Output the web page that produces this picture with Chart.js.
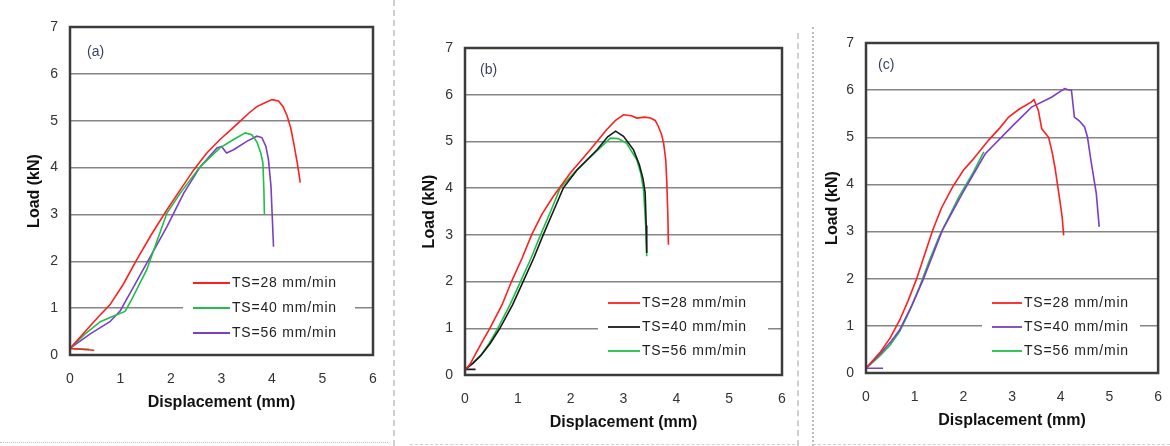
<!DOCTYPE html>
<html>
<head>
<meta charset="utf-8">
<script src="https://cdn.jsdelivr.net/npm/chart.js@4.4.1/dist/chart.umd.min.js"></script>
<style>
  body { margin: 0; background: #fff; }
  #wrap { position: relative; width: 1170px; height: 446px; overflow: hidden; }
  .panel { position: absolute; top: 0; height: 446px; }
  .sep { position: absolute; }
</style>
</head>
<body>
<div id="wrap">
  <div class="panel" style="left:0;width:390px"><canvas id="chartA"></canvas></div>
  <div class="panel" style="left:395px;width:400px"><canvas id="chartB"></canvas></div>
  <div class="panel" style="left:815px;width:355px"><canvas id="chartC"></canvas></div>
  <div class="sep" style="left:393px;top:0;height:446px;border-left:2px dashed #d0d0d0"></div>
  <div class="sep" style="left:797px;top:33px;height:413px;border-left:2px dashed #d0d0d0"></div>
  <div class="sep" style="left:812px;top:27px;height:419px;border-left:2px dotted #bdbdbd"></div>
  <div class="sep" style="left:0;top:442px;width:388px;border-top:1px dotted #bdbdbd"></div>
  <div class="sep" style="left:410px;top:444px;width:385px;border-top:1px dashed #d0d0d0"></div>
  <div class="sep" style="left:813px;top:444px;width:357px;border-top:1px dashed #d0d0d0"></div>
</div>
<script>
// Achsen
const xTicks = [0, 1, 2, 3, 4, 5, 6];
const yTicks = [0, 1, 2, 3, 4, 5, 6, 7];
const labels = ['TS=28 mm/min', 'TS=40 mm/min', 'TS=56 mm/min'];

// (a)
const aRedX = [0.48, 0.0, 0.3, 0.55, 0.79, 1.05, 1.32, 1.6, 1.92, 2.2, 2.45, 2.7, 2.97, 3.2, 3.37, 3.55, 3.7, 3.85, 4.0, 4.13, 4.22, 4.3, 4.37, 4.43, 4.5, 4.56];
const aRedY = [0.1, 0.14, 0.5, 0.8, 1.07, 1.5, 2.03, 2.55, 3.1, 3.55, 3.95, 4.3, 4.6, 4.82, 4.99, 5.17, 5.3, 5.38, 5.45, 5.42, 5.3, 5.1, 4.85, 4.52, 4.1, 3.68];
const aGreenX = [0.38, 0.0, 0.3, 0.6, 0.9, 1.09, 1.22, 1.52, 1.92, 2.18, 2.58, 2.97, 3.24, 3.47, 3.6, 3.7, 3.78, 3.82, 3.84, 3.85];
const aGreenY = [0.12, 0.14, 0.45, 0.71, 0.85, 0.93, 1.18, 1.82, 3.03, 3.45, 4.02, 4.42, 4.6, 4.74, 4.7, 4.55, 4.3, 4.1, 3.5, 2.99];
const aPurpleX = [0.0, 0.4, 0.79, 1.0, 1.1, 1.19, 1.52, 1.92, 2.25, 2.58, 2.91, 3.0, 3.1, 3.24, 3.5, 3.7, 3.8, 3.88, 3.93, 3.98, 4.03];
const aPurpleY = [0.14, 0.45, 0.71, 0.95, 1.15, 1.32, 1.96, 2.74, 3.45, 4.02, 4.42, 4.45, 4.31, 4.38, 4.56, 4.67, 4.64, 4.45, 4.17, 3.6, 2.31];

// (b)
const bRedX = [0, 0.1, 0.2, 0.33, 0.47, 0.7, 0.88, 1.08, 1.26, 1.46, 1.67, 1.99, 2.37, 2.68, 2.85, 3.0, 3.15, 3.25, 3.4, 3.51, 3.6, 3.66, 3.72, 3.76, 3.8, 3.82, 3.84, 3.85];
const bRedY = [0.1, 0.24, 0.45, 0.72, 1.0, 1.5, 2.0, 2.5, 3.0, 3.45, 3.82, 4.32, 4.82, 5.25, 5.45, 5.57, 5.55, 5.5, 5.52, 5.5, 5.45, 5.32, 5.15, 4.96, 4.6, 4.11, 3.4, 2.79];
const bBlackX = [0.2, 0, 0.15, 0.3, 0.48, 0.66, 0.9, 1.1, 1.3, 1.48, 1.67, 1.86, 2.12, 2.5, 2.7, 2.85, 3.0, 3.19, 3.3, 3.37, 3.41, 3.43, 3.44];
const bBlackY = [0.12, 0.12, 0.25, 0.42, 0.68, 1.0, 1.5, 2.0, 2.5, 3.0, 3.5, 4.0, 4.39, 4.82, 5.1, 5.22, 5.11, 4.82, 4.5, 4.2, 3.9, 3.2, 2.61];
const bGreenX = [0, 0.15, 0.3, 0.46, 0.62, 0.85, 1.05, 1.25, 1.43, 1.62, 1.8, 2.1, 2.5, 2.75, 2.9, 3.06, 3.25, 3.33, 3.38, 3.42, 3.44];
const bGreenY = [0.12, 0.26, 0.42, 0.68, 1.0, 1.5, 2.0, 2.5, 3.0, 3.5, 4.0, 4.37, 4.8, 5.07, 5.06, 4.96, 4.61, 4.3, 3.96, 3.2, 2.54];

// (c)
const cRedX = [0, 0.3, 0.5, 0.69, 0.86, 1.03, 1.2, 1.37, 1.55, 1.78, 2.0, 2.18, 2.52, 2.75, 2.93, 3.15, 3.4, 3.45, 3.54, 3.61, 3.75, 3.82, 3.88, 3.98, 4.03, 4.06];
const cRedY = [0.1, 0.45, 0.75, 1.12, 1.52, 1.97, 2.5, 3.03, 3.5, 3.95, 4.3, 4.51, 4.94, 5.2, 5.43, 5.6, 5.75, 5.8, 5.57, 5.18, 5.0, 4.7, 4.37, 3.67, 3.3, 2.92];
const cPurpleX = [0.35, 0, 0.3, 0.5, 0.69, 0.95, 1.17, 1.37, 1.57, 1.98, 2.45, 2.99, 3.4, 3.81, 4.0, 4.08, 4.15, 4.22, 4.28, 4.38, 4.49, 4.55, 4.62, 4.73, 4.79];
const cPurpleY = [0.1, 0.1, 0.42, 0.65, 0.91, 1.45, 1.97, 2.5, 3.03, 3.81, 4.65, 5.22, 5.64, 5.85, 5.98, 6.03, 6.01, 6.0, 5.43, 5.35, 5.22, 5.0, 4.51, 3.81, 3.1];
const cGreenX = [0, 0.3, 0.5, 0.69, 0.9, 1.1, 1.3, 1.5, 1.91, 2.2, 2.42];
const cGreenY = [0.1, 0.38, 0.6, 0.88, 1.33, 1.83, 2.38, 2.89, 3.74, 4.25, 4.69];

const RED = '#ff1f1f', GREEN = '#1fbf4a', PURPLE = '#7b3fc4', BLACK = '#1a1a1a';
const FONT = "'Liberation Sans', Arial, sans-serif";

function toPoints(xs, ys) {
  return xs.map((x, i) => ({ x: x, y: ys[i] }));
}

function makeSet(label, xs, ys, color) {
  return {
    label: label,
    data: toPoints(xs, ys),
    showLine: true,
    borderColor: color,
    backgroundColor: color,
    borderWidth: 1.6,
    pointRadius: 0,
    tension: 0
  };
}

// Rahmen, Feldbeschriftung und Legende im Diagramm
const panelPlugin = {
  id: 'panel',
  afterDatasetsDraw(chart, args, opts) {
    const { ctx, chartArea: a } = chart;
    ctx.save();
    // Legende (weißer Kasten)
    const lx = a.left + opts.legendX;
    ctx.fillStyle = '#fff';
    ctx.fillRect(lx - 10, a.bottom - opts.legendTop, opts.legendW, opts.legendTop - 8);
    ctx.font = '14px ' + FONT;
    ctx.letterSpacing = '0.8px';
    ctx.textBaseline = 'middle';
    chart.data.datasets.forEach((ds, i) => {
      const y = a.bottom - opts.rows[i];
      ctx.strokeStyle = ds.borderColor;
      ctx.lineWidth = 1.8;
      ctx.beginPath();
      ctx.moveTo(lx, y);
      ctx.lineTo(lx + opts.lineLen, y);
      ctx.stroke();
      ctx.fillStyle = '#222';
      ctx.fillText(ds.label, lx + opts.lineLen + 2, y);
    });
    ctx.letterSpacing = '0px';
    // Feldbezeichnung
    ctx.fillStyle = '#3a3f66';
    ctx.font = '14px ' + FONT;
    ctx.fillText(opts.tag, a.left + opts.tagX, a.top + opts.tagY);
    // Rahmen
    ctx.strokeStyle = '#3c3c3c';
    ctx.lineWidth = 2.5;
    ctx.strokeRect(a.left, a.top, a.right - a.left, a.bottom - a.top);
    ctx.restore();
  }
};

function createPanel(id, datasets, pad, yWidth, panelOpts) {
  const ctx = document.getElementById(id).getContext('2d');
  return new Chart(ctx, {
    type: 'scatter',
    data: { datasets: datasets },
    options: {
      responsive: true,
      maintainAspectRatio: false,
      animation: false,
      layout: { padding: pad },
      scales: {
        x: {
          type: 'linear',
          min: xTicks[0],
          max: xTicks[xTicks.length - 1],
          afterBuildTicks: s => { s.ticks = xTicks.map(v => ({ value: v })); },
          afterFit: s => { s.height = 60; },
          grid: { display: false },
          border: { display: false },
          ticks: { padding: 8, color: '#333', font: { size: 14, family: FONT } },
          title: {
            display: true,
            text: 'Displacement (mm)',
            color: '#111',
            padding: { top: 0, bottom: 3 },
            font: { size: 16, weight: 'bold', family: FONT }
          }
        },
        y: {
          type: 'linear',
          min: yTicks[0],
          max: yTicks[yTicks.length - 1],
          afterBuildTicks: s => { s.ticks = yTicks.map(v => ({ value: v })); },
          afterFit: s => { s.width = yWidth; },
          grid: { color: '#858585', lineWidth: 1.5, drawTicks: false },
          border: { display: false },
          ticks: { padding: 12, color: '#333', font: { size: 14, family: FONT } },
          title: {
            display: true,
            text: 'Load (kN)',
            color: '#111',
            padding: { top: 5, bottom: 0 },
            font: { size: 16, weight: 'bold', family: FONT }
          }
        }
      },
      plugins: {
        legend: { display: false },
        tooltip: { enabled: false },
        panel: panelOpts
      }
    },
    plugins: [panelPlugin]
  });
}

document.addEventListener('DOMContentLoaded', () => {
  createPanel('chartA', [
    makeSet(labels[0], aRedX, aRedY, RED),
    makeSet(labels[1], aGreenX, aGreenY, GREEN),
    makeSet(labels[2], aPurpleX, aPurpleY, PURPLE)
  ], { left: 20, top: 27, right: 17, bottom: 31 }, 50,
  { tag: '(a)', tagX: 17, tagY: 25, legendX: 123, lineLen: 37, legendW: 172, legendTop: 86, rows: [72, 47, 22] });

  createPanel('chartB', [
    makeSet(labels[0], bRedX, bRedY, RED),
    makeSet(labels[1], bBlackX, bBlackY, BLACK),
    makeSet(labels[2], bGreenX, bGreenY, GREEN)
  ], { left: 20, top: 48, right: 13, bottom: 11 }, 50,
  { tag: '(b)', tagX: 15, tagY: 22, legendX: 143, lineLen: 32, legendW: 170, legendTop: 86, rows: [72, 48, 24] });

  createPanel('chartC', [
    makeSet(labels[0], cRedX, cRedY, RED),
    makeSet(labels[1], cPurpleX, cPurpleY, PURPLE),
    makeSet(labels[2], cGreenX, cGreenY, GREEN)
  ], { left: 3, top: 43, right: 9, bottom: 13 }, 48,
  { tag: '(c)', tagX: 12, tagY: 22, legendX: 126, lineLen: 30, legendW: 158, legendTop: 84, rows: [70, 46, 22] });
});
</script>
</body>
</html>
